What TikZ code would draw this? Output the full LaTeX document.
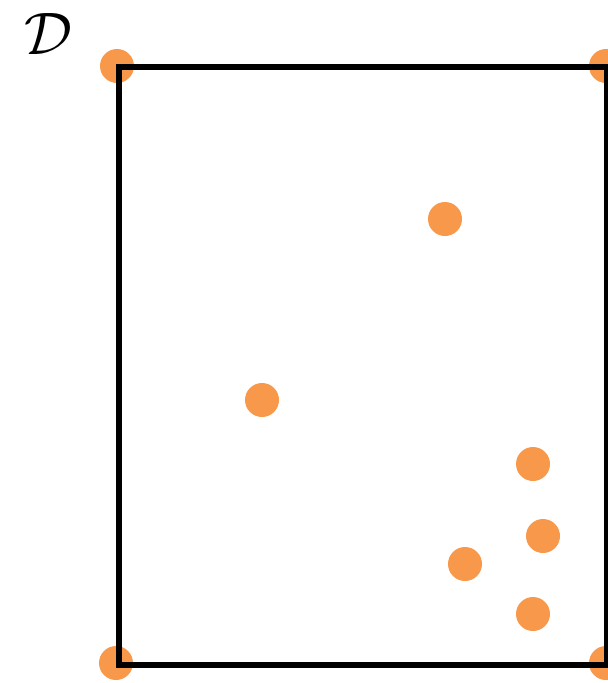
\documentclass[tikz,border=0pt]{standalone}
\definecolor{dotorange}{RGB}{247,152,74}
\tikzset{
  pt/.style={circle,fill=dotorange,inner sep=0pt,minimum size=34pt},
  frame/.style={line width=5.5pt,black}
}
\begin{document}
\begin{tikzpicture}[x=1pt,y=-1pt]
\useasboundingbox (0,0) rectangle (608,683);
\node[pt] (c1) at (117,66) {};
\node[pt] (c2) at (606,66) {};
\node[pt] (c3) at (116,663) {};
\node[pt] (c4) at (606,663) {};
\node[pt] (p1) at (445,219) {};
\node[pt] (p2) at (262,400) {};
\node[pt] (p3) at (533,464) {};
\node[pt] (p4) at (543,536) {};
\node[pt] (p5) at (465,564) {};
\node[pt] (p6) at (533,614) {};
\coordinate (a) at (119,67);
\coordinate (b) at (606.5,665);
\draw[frame] (a) rectangle (b);
\node[inner sep=0pt] (lbl) at (48,34) {\scalebox{6}{$\mathcal{D}$}};
\end{tikzpicture}
\end{document}
